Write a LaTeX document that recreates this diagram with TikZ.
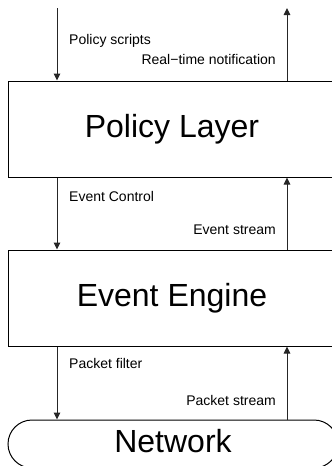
\documentclass[tikz,border=0pt]{standalone}
\usepackage{fontspec}
\setmainfont{Liberation Sans}
\usetikzlibrary{arrows.meta,shapes.misc}

\tikzset{
  layer/.style={draw=black, line width=1pt, minimum width=328pt, minimum height=96pt,
                inner sep=0pt, font=\fontsize{32}{36}\selectfont},
  netpill/.style={draw=black, line width=1pt, rounded rectangle, minimum width=330pt,
                  minimum height=48pt, inner sep=0pt, text depth=6pt,
                  font=\fontsize{32}{36}\selectfont},
  flow/.style={draw=black!85, line width=1pt,
               -{Triangle[length=7pt,width=6.5pt]}},
  lbl/.style={inner sep=0pt, font=\fontsize{14}{16}\selectfont},
}

\begin{document}
\begin{tikzpicture}[x=1pt, y=-1pt]
  \useasboundingbox (0,0) rectangle (332,466);
  \begin{scope}
    \clip (0,0) rectangle (332,466);

    % the three layers
    \node[layer]   (policy) at (172,129) {Policy Layer};
    \node[layer]   (engine) at (172,298) {Event Engine};
    \node[netpill] (net)    at (173,444) {Network};

    % columns of the downward and upward flows
    \coordinate (dn) at (57,8);
    \coordinate (up) at (287,8);

    % into / out of the policy layer
    \draw[flow] (dn) -- (dn |- policy.north);
    \draw[flow] (up |- policy.north) -- (up);

    % policy layer <-> event engine
    \draw[flow] (dn |- policy.south) -- (dn |- engine.north);
    \draw[flow] (up |- engine.north) -- (up |- policy.south);

    % event engine <-> network
    \draw[flow] (dn |- engine.south) -- (dn |- net.north);
    \draw[flow] (up |- net.north) -- (up |- engine.south);

    % flow labels
    \node[lbl, anchor=base west] (l1) at (69,44)  {Policy scripts};
    \node[lbl, anchor=base east] (l2) at (276,64) {Real−time notification};
    \node[lbl, anchor=base west] (l3) at (69,201) {Event Control};
    \node[lbl, anchor=base east] (l4) at (276,234) {Event stream};
    \node[lbl, anchor=base west] (l5) at (69,368) {Packet filter};
    \node[lbl, anchor=base east] (l6) at (276,405) {Packet stream};
  \end{scope}
\end{tikzpicture}
\end{document}
